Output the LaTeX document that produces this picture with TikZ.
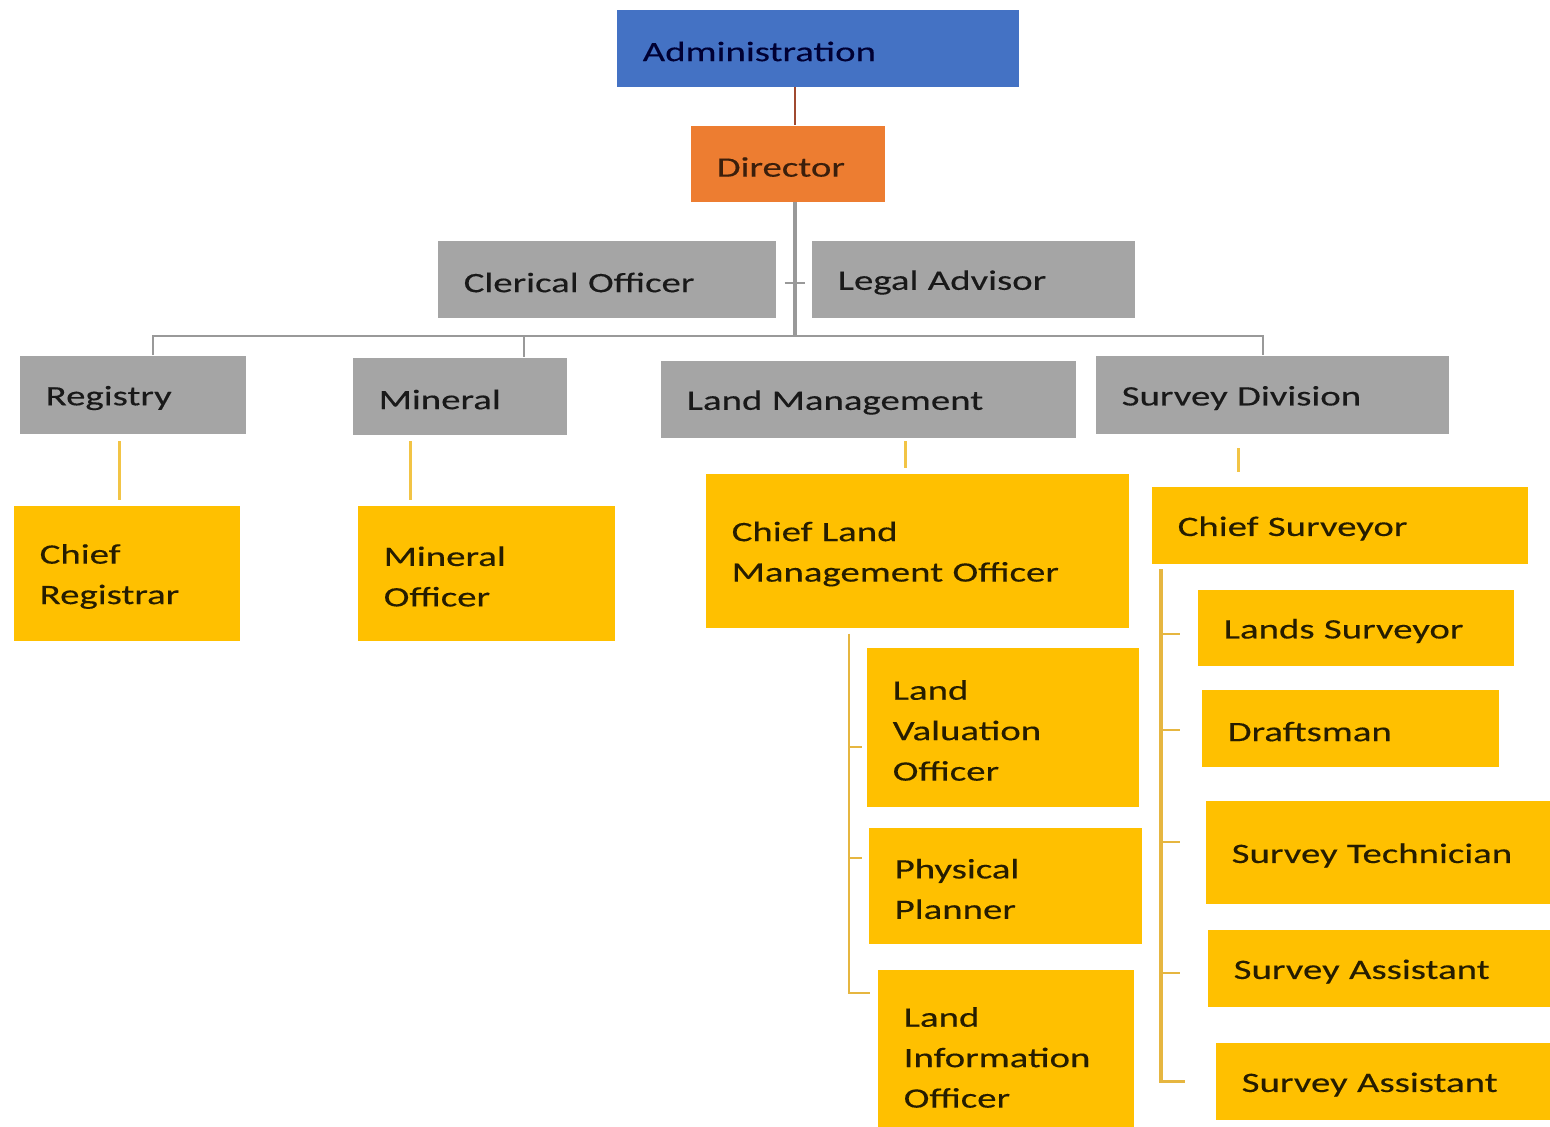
\documentclass[tikz,border=0pt]{standalone}
\usepackage{fontspec}
\setmainfont[FakeStretch=1.38, FakeBold=0.3]{Carlito}
\usepackage{xcolor}
\usepackage{tikz}
\definecolor{adminblue}{HTML}{4472C4}
\definecolor{dirorange}{HTML}{ED7D31}
\definecolor{unitgrey}{HTML}{A5A5A5}
\definecolor{staffgold}{HTML}{FFC000}
\definecolor{linkgold}{HTML}{F2C445}
\definecolor{railgold}{HTML}{E6B640}
\definecolor{busgrey}{HTML}{999999}
\definecolor{linkred}{HTML}{A04A30}
\tikzset{
  post/.style={anchor=north west, inner xsep=0.26cm, inner ysep=0pt, align=left,
    font=\fontsize{8}{11.5}\selectfont, execute at begin node={\rule{0pt}{0.26cm}}},
  top post/.style={post, fill=adminblue, text=black!80!blue},
  head post/.style={post, fill=dirorange, text=black!75!dirorange},
  unit/.style={post, fill=unitgrey, text=black!90},
  staff/.style={post, fill=staffgold, text=black!85!staffgold},
  red link/.style={draw=linkred, line width=0.6pt},
  grey trunk/.style={draw=busgrey, line width=0.9pt},
  grey link/.style={draw=busgrey, line width=0.6pt},
  gold link/.style={draw=linkgold, line width=0.8pt},
  gold rail/.style={draw=railgold, line width=0.7pt}
}

\begin{document}
\begin{tikzpicture}[x=0.01cm, y=-0.01cm]
 \useasboundingbox (0,0) rectangle (1550,1126);
 \clip (0,0) rectangle (1550,1126);

 % top of the chart
 \node[top post, text width=3.50cm, minimum height=0.77cm] (admin) at (616,9) {Administration};
 \node[head post, text width=1.42cm, minimum height=0.76cm] (director) at (690,125) {Director};
 \node[unit, text width=2.86cm, minimum height=0.77cm] (clerical) at (437,240) {Clerical Officer};
 \node[unit, text width=2.71cm, minimum height=0.77cm] (legal) at (811,240) {Legal Advisor};

 % divisions
 \node[unit, text width=1.74cm, minimum height=0.78cm] (registry) at (19,355) {Registry};
 \node[unit, text width=1.62cm, minimum height=0.77cm] (mineral) at (352,357) {Mineral};
 \node[unit, text width=3.63cm, minimum height=0.77cm] (landmgmt) at (660,360) {Land Management};
 \node[unit, text width=3.01cm, minimum height=0.78cm] (survey) at (1095,355) {Survey Division};

 % staff
 \node[staff, text width=1.74cm, minimum height=1.35cm] (registrar) at (13,505) {Chief\\Registrar};
 \node[staff, text width=2.05cm, minimum height=1.35cm] (mineralofficer) at (357,505) {Mineral\\Officer};
 \node[staff, text width=3.71cm, minimum height=1.54cm] (chieflmo) at (705,473) {Chief Land\\Management Officer};
 \node[staff, text width=2.20cm, minimum height=1.59cm] (valuation) at (866,647) {Land\\Valuation\\Officer};
 \node[staff, text width=2.21cm, minimum height=1.16cm] (planner) at (868,827) {Physical\\Planner};
 \node[staff, text width=2.04cm, minimum height=1.69cm] (information) at (877,969) {Land\\Information\\Officer};

 \node[staff, text width=3.24cm, minimum height=0.77cm] (chiefsurveyor) at (1151,486) {Chief Surveyor};
 \node[staff, text width=2.64cm, minimum height=0.76cm] (landsurveyor) at (1197,589) {Lands Surveyor};
 \node[staff, text width=2.45cm, minimum height=0.77cm] (draftsman) at (1201,689) {Draftsman};
 \node[staff, text width=3.03cm, minimum height=1.03cm] (technician) at (1205,800) {Survey Technician};
 \node[staff, text width=3.01cm, minimum height=0.77cm] (assistantA) at (1207,929) {Survey Assistant};
 \node[staff, text width=2.93cm, minimum height=0.77cm] (assistantB) at (1215,1042) {Survey Assistant};

 \coordinate (spine) at (795,0);
 \coordinate (busL) at (153,336);
 \coordinate (busM) at (524,336);
 \coordinate (busR) at (1263,336);
 \coordinate (lmorail) at (849,0);
 \coordinate (surveyrail) at (1161,0);

 \draw[red link] (admin.south -| spine) -- (director.north -| spine);
 \draw[grey trunk] (director.south -| spine) -- (busL -| spine);
 \draw[grey link] ([xshift=0.08cm, yshift=-0.04cm]clerical.east) -- ([xshift=-0.06cm, yshift=-0.04cm]legal.west);
 \draw[grey link] (registry.north -| busL) -- (busL) -- (busR) -- (survey.north -| busR);
 \draw[grey link] (busM) -- (mineral.north -| busM);

 \coordinate (regdrop) at ([xshift=-0.13cm]registry.south);
 \coordinate (mindrop) at ([xshift=-0.49cm]mineral.south);
 \coordinate (lmdrop) at ([xshift=0.375cm]landmgmt.south);
 \coordinate (survdrop) at ([xshift=-0.335cm]survey.south);
 \draw[gold link, shorten <=0.07cm, shorten >=0.05cm] (regdrop) -- (regdrop |- registrar.north);
 \draw[gold link, shorten <=0.06cm, shorten >=0.05cm] (mindrop) -- (mindrop |- mineralofficer.north);
 \draw[gold link, shorten <=0.03cm, shorten >=0.05cm] (lmdrop) -- (lmdrop |- chieflmo.north);
 \draw[gold link, shorten <=0.14cm, shorten >=0.14cm] (survdrop) -- (survdrop |- chiefsurveyor.north);

 \draw[gold rail, shorten <=0.05cm] (chieflmo.south -| lmorail) |- ([yshift=-0.24cm, xshift=-0.07cm]information.north west);
 \draw[gold rail] (lmorail |- valuation.west) ++(0,20) -- ++(13,0);
 \draw[gold rail] (lmorail |- planner.west) ++(0,-28) -- ++(13,0);

 \draw[gold rail, line width=0.9pt, shorten <=0.05cm, shorten >=0.30cm] (chiefsurveyor.south -| surveyrail) |- (assistantB.west);
 \foreach \n/\dy in {landsurveyor/6, draftsman/2, technician/-10, assistantA/5}
   \draw[gold rail] (surveyrail |- \n.west) ++(0,\dy) -- ++(19,0);
\end{tikzpicture}
\end{document}
